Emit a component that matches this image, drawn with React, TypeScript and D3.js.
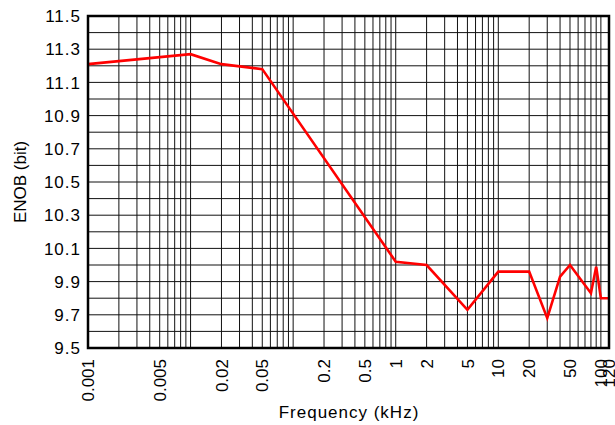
import React from "react";
import * as d3 from "d3";

const freqKHz = [0.001, 0.01, 0.02, 0.05, 1, 2, 5, 10, 20, 30, 40, 50, 80, 90, 100, 120];
const enobBits = [11.21, 11.27, 11.21, 11.18, 10.02, 10.0, 9.73, 9.96, 9.96, 9.68, 9.93, 10.0, 9.83, 9.99, 9.8, 9.8];

const xTickValues = [0.001, 0.005, 0.02, 0.05, 0.2, 0.5, 1, 2, 5, 10, 20, 50, 100, 120];
const xTickLabels = ["0.001", "0.005", "0.02", "0.05", "0.2", "0.5", "1", "2", "5", "10", "20", "50", "100", "120"];
const yTickValues = [9.5, 9.7, 9.9, 10.1, 10.3, 10.5, 10.7, 10.9, 11.1, 11.3, 11.5];
const yTickLabels = ["9.5", "9.7", "9.9", "10.1", "10.3", "10.5", "10.7", "10.9", "11.1", "11.3", "11.5"];
const decades = [0.001, 0.01, 0.1, 1, 10, 100];
const multipliers = [1, 2, 3, 4, 5, 6, 7, 8, 9];

const W = 615;
const H = 425;
const L = 88;
const R = 609;
const T = 16;
const B = 348;

export default function App() {
  const x = d3.scaleLog().domain([0.001, 120]).range([L, R]);
  const y = d3.scaleLinear().domain([9.5, 11.5]).range([B, T]);

  const vGrid: number[] = [];
  decades.forEach((d) => multipliers.forEach((m) => {
    const v = d * m;
    if (v > 0.001 && v < 120) vGrid.push(v);
  }));
  const hGrid = d3.range(1, 20).map((i) => 9.5 + i * 0.1);

  const line = d3
    .line<number>()
    .x((_, i) => x(freqKHz[i]))
    .y((v) => y(v));

  const font = "Arial, 'Liberation Sans', Helvetica, sans-serif";

  return (
    <svg width={W} height={H} style={{ position: "absolute", left: 0, top: 0, background: "#fff" }} fontFamily={font}>
      <rect x={0} y={0} width={W} height={H} fill="#fff" />
      {vGrid.map((v, i) => (
        <line key={"v" + i} x1={x(v)} x2={x(v)} y1={T} y2={B} stroke="#111" strokeWidth={1} />
      ))}
      {hGrid.map((v, i) => (
        <line key={"h" + i} x1={L} x2={R} y1={y(v)} y2={y(v)} stroke="#111" strokeWidth={1} />
      ))}
      <path d={line(enobBits) || ""} fill="none" stroke="#ff0000" strokeWidth={2.6} strokeLinejoin="miter" />
      <rect x={L} y={T} width={R - L} height={B - T} fill="none" stroke="#000" strokeWidth={2.5} />
      {yTickValues.map((v, i) => (
        <text key={"yl" + i} x={81} y={y(v)} dy="0.36em" textAnchor="end" fontSize={17} letterSpacing={1} fill="#000">
          {yTickLabels[i]}
        </text>
      ))}
      {xTickValues.map((v, i) => (
        <text
          key={"xl" + i}
          transform={`translate(${x(v)},359) rotate(-90)`}
          dy="0.36em"
          textAnchor="end"
          fontSize={17}
          fill="#000"
        >
          {xTickLabels[i]}
        </text>
      ))}
      <text x={349} y={418} textAnchor="middle" fontSize={17} letterSpacing={1} fill="#000">
        Frequency (kHz)
      </text>
      <text transform={`translate(26,${(T + B) / 2}) rotate(-90)`} textAnchor="middle" fontSize={17} fill="#000">
        ENOB (bit)
      </text>
    </svg>
  );
}
